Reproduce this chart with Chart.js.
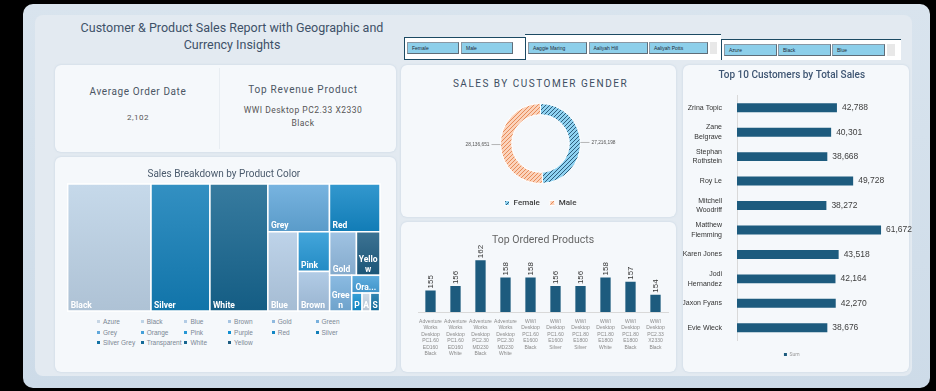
<!DOCTYPE html>
<html>
<head>
<meta charset="utf-8">
<title>Customer & Product Sales Report</title>
<script src="https://cdn.jsdelivr.net/npm/chart.js@4.4.1/dist/chart.umd.min.js"></script>
<style>
  html, body { margin: 0; padding: 0; }
  body { width: 936px; height: 391px; background: #000; position: relative; overflow: hidden; font-family: Roboto, "Liberation Sans", sans-serif; }
  .abs { position: absolute; }
  #frame { left: 23px; top: 4px; width: 907px; height: 384px; border-radius: 10px; background: linear-gradient(180deg, #d9e4ee, #cddbe8); }
  #inner { left: 35px; top: 15px; width: 877px; height: 361px; border-radius: 8px; background: #e3eaf1; }
  .card { position: absolute; background: #f5f8fb; border-radius: 6px; box-shadow: 0 0 2px rgba(170, 190, 210, 0.6); }
  .txt { position: absolute; text-align: center; color: #4b5663; white-space: nowrap; }
  .slicer { position: absolute; box-sizing: border-box; background: #fff; }
  .btn { position: absolute; box-sizing: border-box; height: 12px; background: #8dcfea; border: 1px solid #8a98a4; border-right-color: #5f6d78; border-bottom-color: #5f6d78;
         font: 5px "Liberation Sans", sans-serif; color: #1d2b36; line-height: 10px; padding-left: 4px; white-space: nowrap; overflow: hidden; }
  .scroll { position: absolute; background: #e8e8e8; height: 12px; }
  .tl { position: absolute; font: 6.5px "Liberation Sans", sans-serif; color: #7b8794; white-space: nowrap; line-height: 7px; }
  .tl i { display: inline-block; width: 3px; height: 3px; margin-right: 3px; vertical-align: 1px; }
  canvas { position: absolute; }
</style>
</head>
<body>
<div id="frame" class="abs"></div>
<div id="inner" class="abs"></div>

<div class="txt" style="left:60px; top:19px; width:344px; font-size:12.5px; line-height:17.4px; color:#3e5168;">Customer &amp; Product Sales Report with Geographic and<br>Currency Insights</div>

<div id="slicers"></div>

<div class="card" style="left:55px; top:65px; width:341px; height:87px;"></div>
<div class="abs" style="left:219px; top:68px; width:1px; height:81px; background:#e8edf2;"></div>
<div class="card" style="left:55px; top:157px; width:341px; height:215px;"></div>
<div class="card" style="left:401px; top:65px; width:275px; height:152px;"></div>
<div class="card" style="left:401px; top:222px; width:275px; height:150px;"></div>
<div class="card" style="left:683px; top:65px; width:226px; height:307px;"></div>

<div id="kpi"></div>

<div class="txt" style="left:401px; top:76.5px; width:279px; font-size:10px; line-height:13px; letter-spacing:1.5px; font-weight:normal; color:#3d4e62;">SALES BY CUSTOMER GENDER</div>

<canvas id="treeChart" width="341" height="160" style="left:55px; top:157px;"></canvas>
<div id="treeLegend"></div>
<canvas id="genderChart" width="275" height="119" style="left:401px; top:98px;"></canvas>
<canvas id="productChart" width="275" height="150" style="left:401px; top:222px;"></canvas>
<canvas id="customerChart" width="229" height="307" style="left:683px; top:65px;"></canvas>

<script>
// ---- data ----
const genderLabels = ['Female', 'Male'];
const genderSales = [27216198, 28136651];

const slicerCustomers = ['Aaggie Maring', 'Aaliyah Hill', 'Aaliyah Potts'];

const avgOrderDate = '2,102';
const topRevenueProduct = ['WWI Desktop PC2.33 X2330', 'Black'];

const productLabels = [
  ['Adventure', 'Works', 'Desktop', 'PC1.60', 'ED160', 'Black'],
  ['Adventure', 'Works', 'Desktop', 'PC1.60', 'ED160', 'White'],
  ['Adventure', 'Works', 'Desktop', 'PC2.30', 'MD230', 'Black'],
  ['Adventure', 'Works', 'Desktop', 'PC2.30', 'MD230', 'White'],
  ['WWI', 'Desktop', 'PC1.60', 'E1600', 'Black'],
  ['WWI', 'Desktop', 'PC1.60', 'E1600', 'Silver'],
  ['WWI', 'Desktop', 'PC1.80', 'E1800', 'Silver'],
  ['WWI', 'Desktop', 'PC1.80', 'E1800', 'White'],
  ['WWI', 'Desktop', 'PC1.80', 'E1800', 'Black'],
  ['WWI', 'Desktop', 'PC2.33', 'X2330', 'Black']
];
const productOrders = [155, 156, 162, 158, 158, 156, 156, 158, 157, 154];

const customerLabels = [
  'Zrina Topic', ['Zane', 'Belgrave'], ['Stephan', 'Rothstein'], 'Roy Le', ['Mitchell', 'Woodriff'],
  ['Matthew', 'Flemming'], 'Karen Jones', ['Jodi', 'Hernandez'], 'Jaxon Fyans', 'Evie Wieck'
];
const customerSales = [42788, 40301, 38668, 49728, 38272, 61672, 43518, 42164, 42270, 38676];

const colorNames = ['Azure', 'Black', 'Blue', 'Brown', 'Gold', 'Green', 'Grey', 'Orange', 'Pink', 'Purple',
  'Red', 'Silver', 'Silver Grey', 'Transparent', 'White', 'Yellow'];
const colorSales = [204860, 14562310, 3272140, 1727450, 1605630, 1085240, 4047320, 692180, 1732880, 254690,
  3321960, 10298450, 227010, 9850, 10131870, 1411870];

// how the treemap nests its cells (h = side by side, v = stacked)
const treeLayout = ['h', 'Black', 'Silver', 'White',
  ['v', ['h', 'Grey', 'Red'],
        ['h', 'Blue', ['v', 'Pink', 'Brown'],
              ['v', ['h', 'Gold', 'Yellow'],
                    ['h', 'Green', ['v', 'Orange', ['h', 'Purple', 'Azure', 'Silver Grey', 'Transparent']]]]]]];

// ---- styles ----
const colorPalette = ['#c6d5e4', '#bdd3e7', '#b3cce5', '#a6c4e2', '#90b9de', '#78b0dd', '#62a8db', '#45a0d9',
  '#2697d5', '#138fd1', '#1287c6', '#127eb8', '#1372a5', '#136a98', '#16658f', '#1d5c81'];
const barColor = '#1d5b7e';

Chart.defaults.font.family = 'Roboto, "Liberation Sans", sans-serif';
Chart.defaults.animation = false;

// ---- html bits: slicers and KPI ----
const slicerHost = document.getElementById('slicers');
function addBox(style, cls) {
  const d = document.createElement('div');
  d.className = cls;
  d.setAttribute('style', style);
  slicerHost.appendChild(d);
  return d;
}
addBox('left:525px; top:34px; width:196px; height:26px; border-top:1px solid #1c4a63;', 'slicer');
addBox('left:721px; top:39px; width:180px; height:21px; border-top:1px solid #1c4a63; border-left:1px solid #1c4a63;', 'slicer');
addBox('left:404px; top:37px; width:122px; height:23px; border:1px solid #1c4a63;', 'slicer');

function addButtons(labels, left, top, w, gap) {
  labels.forEach((t, i) => {
    const b = addBox(`left:${left + i * (w + gap)}px; top:${top}px; width:${w}px;`, 'btn');
    b.textContent = t;
  });
}
addButtons(genderLabels, 407, 42, 52, 2);
addButtons(slicerCustomers, 528, 42, 59, 1.5);
addBox('left:710px; top:42px; width:7px;', 'scroll');
addButtons(colorNames.slice(0, 3), 724, 44, 52.5, 1.5);
addBox('left:887px; top:44px; width:8px;', 'scroll');

document.getElementById('kpi').innerHTML =
  `<div class="txt" style="left:55px; top:86px; width:166px; font-size:10px; line-height:12px; letter-spacing:0.6px;">Average Order Date</div>
   <div class="txt" style="left:55px; top:113px; width:166px; font-size:8px; line-height:10px; letter-spacing:0.5px; color:#555;">${avgOrderDate}</div>
   <div class="txt" style="left:218px; top:83.5px; width:170px; font-size:10px; line-height:12px; letter-spacing:0.8px;">Top Revenue Product</div>
   <div class="txt" style="left:218px; top:103.5px; width:170px; font-size:8.5px; line-height:13px; letter-spacing:0.5px; color:#555;">${topRevenueProduct[0]}<br>${topRevenueProduct[1]}</div>`;

// ---- treemap ----
function mix(hex, target, t) {
  const n = parseInt(hex.slice(1), 16);
  const c = [(n >> 16) & 255, (n >> 8) & 255, n & 255].map(v => Math.round(v + (target - v) * t));
  return `rgb(${c[0]},${c[1]},${c[2]})`;
}
function nodeSum(node) {
  if (typeof node === 'string') return colorSales[colorNames.indexOf(node)];
  return node.slice(1).reduce((s, n) => s + nodeSum(n), 0);
}
function layoutNode(node, x0, y0, x1, y1, out) {
  if (typeof node === 'string') { out.push({ name: node, x0, y0, x1, y1 }); return; }
  const total = nodeSum(node);
  let pos = node[0] === 'h' ? x0 : y0;
  node.slice(1).forEach(child => {
    const share = nodeSum(child) / total;
    if (node[0] === 'h') {
      const next = pos + (x1 - x0) * share;
      layoutNode(child, pos, y0, next, y1, out);
      pos = next;
    } else {
      const next = pos + (y1 - y0) * share;
      layoutNode(child, x0, pos, x1, next, out);
      pos = next;
    }
  });
}
function fitLabel(ctx, text, w, h) {
  const lineH = 10;
  const maxLines = Math.max(1, Math.floor((h - 2) / lineH));
  const fits = s => ctx.measureText(s).width <= w - 2;
  if (ctx.measureText(text).width <= w - 6) return { lines: [text], wrapped: false };
  const lines = [];
  let rest = text;
  while (rest.length && lines.length < maxLines) {
    if (lines.length === maxLines - 1) {
      if (fits(rest)) { lines.push(rest); break; }
      let k = rest.length - 1;
      while (k > 0 && ctx.measureText(rest.slice(0, k) + '...').width > w - 5) k--;
      if (k > 0) lines.push(rest.slice(0, k) + '...');
      else {
        let j = 1;
        while (j < rest.length && fits(rest.slice(0, j + 1))) j++;
        lines.push(rest.slice(0, j));
      }
      break;
    }
    let k = rest.length;
    while (k > 1 && !fits(rest.slice(0, k))) k--;
    lines.push(rest.slice(0, k));
    rest = rest.slice(k).trimStart();
  }
  return { lines, wrapped: true };
}
const treemapCells = {
  id: 'treemapCells',
  afterDatasetsDraw(chart) {
    const { ctx, scales: { x, y } } = chart;
    const rects = [];
    layoutNode(treeLayout, 0, 0, 1, 1, rects);
    ctx.save();
    rects.forEach(r => {
      const px0 = x.getPixelForValue(r.x0), px1 = x.getPixelForValue(r.x1);
      const py0 = y.getPixelForValue(r.y0), py1 = y.getPixelForValue(r.y1);
      const w = px1 - px0, h = py1 - py0;
      if (w < 0.8 || h < 0.8) return;
      const base = colorPalette[colorNames.indexOf(r.name)];
      const g = ctx.createLinearGradient(0, py0, 0, py1);
      g.addColorStop(0, mix(base, 255, 0.14));
      g.addColorStop(1, mix(base, 0, 0.08));
      ctx.fillStyle = g;
      ctx.fillRect(px0, py0, w, h);
      ctx.strokeStyle = '#ffffff';
      ctx.lineWidth = 1.5;
      ctx.strokeRect(px0, py0, w, h);

      ctx.font = 'bold 8.5px Roboto, "Liberation Sans", sans-serif';
      ctx.fillStyle = '#ffffff';
      ctx.textBaseline = 'alphabetic';
      const lab = fitLabel(ctx, r.name, w, h);
      if (!lab.wrapped) {
        ctx.textAlign = 'left';
        ctx.fillText(lab.lines[0], px0 + 3, py1 - 3.5);
      } else {
        ctx.textAlign = 'center';
        const n = lab.lines.length;
        lab.lines.forEach((line, i) => ctx.fillText(line, px0 + w / 2, py1 - 3.5 - (n - 1 - i) * 10));
      }
    });
    ctx.restore();
  }
};
new Chart(document.getElementById('treeChart'), {
  type: 'scatter',
  data: { datasets: [{ label: 'Sales', data: [] }] },
  options: {
    responsive: false,
    layout: { padding: { left: 12.7, right: 16, top: 0, bottom: 6 } },
    scales: {
      x: { display: false, min: 0, max: 1 },
      y: { display: false, min: 0, max: 1, reverse: true }
    },
    plugins: {
      legend: { display: false },
      tooltip: { enabled: false },
      title: {
        display: true, text: 'Sales Breakdown by Product Color', color: '#4a5a6c',
        font: { size: 10, weight: 'normal' }, padding: { top: 11, bottom: 4 }
      }
    }
  },
  plugins: [treemapCells]
});
const treeLegend = document.getElementById('treeLegend');
colorNames.forEach((n, i) => {
  const el = document.createElement('div');
  el.className = 'tl';
  el.style.left = (97 + (i % 6) * 43.7) + 'px';
  el.style.top = (318.2 + Math.floor(i / 6) * 10.5) + 'px';
  el.innerHTML = `<i style="background:${colorPalette[i]}"></i>${n}`;
  treeLegend.appendChild(el);
});

// ---- gender doughnut ----
function hatch(base, line) {
  const c = document.createElement('canvas');
  c.width = 4; c.height = 4;
  const x = c.getContext('2d');
  x.fillStyle = base;
  x.fillRect(0, 0, 4, 4);
  x.strokeStyle = line;
  x.lineWidth = 0.9;
  x.beginPath();
  x.moveTo(0, 4); x.lineTo(4, 0);
  x.moveTo(-1, 1); x.lineTo(1, -1);
  x.moveTo(3, 5); x.lineTo(5, 3);
  x.stroke();
  return x.createPattern(c, 'repeat');
}
const genderPatterns = [hatch('#8fd3f2', '#24506e'), hatch('#fbd3bb', '#e5834f')];
const sliceLabels = {
  id: 'sliceLabels',
  afterDatasetsDraw(chart) {
    const { ctx } = chart;
    const meta = chart.getDatasetMeta(0);
    ctx.save();
    ctx.font = '4.8px "Liberation Sans", sans-serif';
    ctx.fillStyle = '#555';
    ctx.strokeStyle = '#9a9a9a';
    ctx.lineWidth = 0.7;
    ctx.textBaseline = 'middle';
    meta.data.forEach((arc, i) => {
      const p = arc.getProps(['x', 'y', 'startAngle', 'endAngle', 'outerRadius'], true);
      const mid = (p.startAngle + p.endAngle) / 2;
      const px = p.x + Math.cos(mid) * p.outerRadius;
      const py = p.y + Math.sin(mid) * p.outerRadius;
      const side = Math.cos(mid) >= 0 ? 1 : -1;
      const ex = px + side * 9;
      ctx.beginPath();
      ctx.moveTo(px, py); ctx.lineTo(ex, py);
      ctx.stroke();
      ctx.textAlign = side > 0 ? 'left' : 'right';
      ctx.fillText(genderSales[i].toLocaleString('en-US'), ex + side * 2, py);
    });
    ctx.restore();
  }
};
new Chart(document.getElementById('genderChart'), {
  type: 'doughnut',
  data: {
    labels: genderLabels,
    datasets: [{ data: genderSales, backgroundColor: genderPatterns, borderColor: '#ffffff', borderWidth: 1 }]
  },
  options: {
    responsive: false,
    radius: 40,
    cutout: '72%',
    layout: { padding: { left: 4, right: 0, top: 0, bottom: 0 } },
    plugins: {
      tooltip: { enabled: false },
      legend: {
        position: 'bottom',
        labels: { boxWidth: 5, boxHeight: 5, padding: 10, color: '#404040', font: { size: 8, weight: '500' } }
      }
    }
  },
  plugins: [sliceLabels]
});

// ---- top ordered products ----
const uprightValues = {
  id: 'uprightValues',
  afterDatasetsDraw(chart) {
    const { ctx } = chart;
    ctx.save();
    ctx.font = '8px "Liberation Sans", sans-serif';
    ctx.fillStyle = '#333';
    ctx.textAlign = 'left';
    ctx.textBaseline = 'middle';
    chart.getDatasetMeta(0).data.forEach((bar, i) => {
      ctx.save();
      ctx.translate(bar.x, bar.y - 2);
      ctx.rotate(-Math.PI / 2);
      ctx.fillText(String(productOrders[i]), 0, 0);
      ctx.restore();
    });
    ctx.restore();
  }
};
new Chart(document.getElementById('productChart'), {
  type: 'bar',
  data: {
    labels: productLabels,
    datasets: [{ label: 'Orders', data: productOrders, backgroundColor: barColor, categoryPercentage: 0.8, barPercentage: 0.515 }]
  },
  options: {
    responsive: false,
    layout: { padding: { left: 17, right: 8, top: 0, bottom: 5 } },
    scales: {
      x: {
        grid: { display: false },
        border: { color: '#d9d9d9' },
        ticks: { autoSkip: false, maxRotation: 0, padding: -2, color: '#8a8a8a', font: { size: 5, lineHeight: 1.3, family: '"Liberation Sans", sans-serif' } },
        afterFit: s => { s.height = 55; }
      },
      y: { display: false, min: 150, max: 164 }
    },
    plugins: {
      legend: { display: false },
      tooltip: { enabled: false },
      title: { display: true, text: 'Top Ordered Products', color: '#666', font: { size: 10.5, weight: 'normal' }, padding: { top: 12, bottom: 5 } }
    }
  },
  plugins: [uprightValues]
});

// ---- top 10 customers ----
const endValues = {
  id: 'endValues',
  afterDatasetsDraw(chart) {
    const { ctx } = chart;
    ctx.save();
    ctx.font = '8.5px "Liberation Sans", sans-serif';
    ctx.fillStyle = '#404040';
    ctx.textAlign = 'left';
    ctx.textBaseline = 'middle';
    chart.getDatasetMeta(0).data.forEach((bar, i) => {
      ctx.fillText(customerSales[i].toLocaleString('en-US'), bar.x + 5, bar.y);
    });
    ctx.restore();
  }
};
new Chart(document.getElementById('customerChart'), {
  type: 'bar',
  data: {
    labels: customerLabels,
    datasets: [{ label: 'Sum', data: customerSales, backgroundColor: barColor, categoryPercentage: 0.8, barPercentage: 0.46 }]
  },
  options: {
    indexAxis: 'y',
    responsive: false,
    layout: { padding: { left: 0, right: 11.5, top: 0, bottom: 5 } },
    scales: {
      x: { display: false, min: 0, max: 70000 },
      y: {
        grid: { display: false },
        border: { color: '#d9d9d9' },
        ticks: { padding: 7, color: '#333', font: { size: 7, family: '"Liberation Sans", sans-serif', lineHeight: 1.4 } },
        afterFit: s => { s.width = 54; }
      }
    },
    plugins: {
      tooltip: { enabled: false },
      title: { display: true, text: 'Top 10 Customers by Total Sales', color: '#3f5673', font: { size: 10, weight: '500' }, padding: { top: 4.7, bottom: 13.8 } },
      legend: {
        position: 'bottom',
        labels: { boxWidth: 3, boxHeight: 3, padding: 12, color: '#999', font: { size: 5 } }
      }
    }
  },
  plugins: [endValues]
});
</script>
</body>
</html>
